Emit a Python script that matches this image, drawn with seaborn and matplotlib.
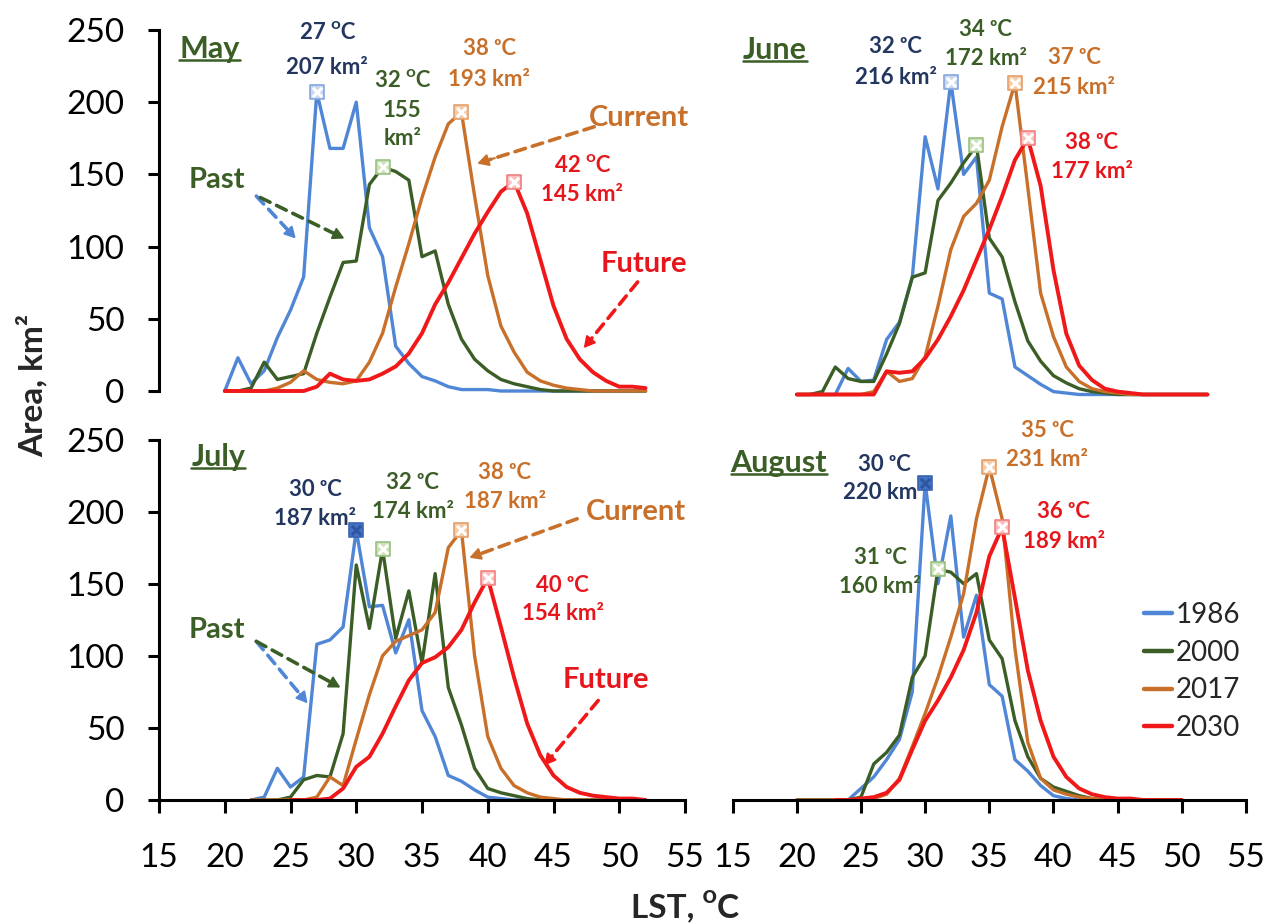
import numpy as np
import pandas as pd
import matplotlib.pyplot as plt
from matplotlib.lines import Line2D
import seaborn as sns

nan = np.nan
years = ["1986", "2000", "2017", "2030"]
line_colors = {"1986": "#4F86D6", "2000": "#3B5E27", "2017": "#C8702A", "2030": "#F01818"}
text_colors = {"1986": "#22365F", "2000": "#3B5E27", "2017": "#C8702A", "2030": "#E5161C"}

# area (km2) per 1 degC LST class
may_lst = list(range(20, 53))
may_1986 = [0, 23, 5, 14, 37, 56, 79, 207, 168, 168, 200, 113, 93, 31, 19, 10, 7, 3, 1, 1, 1,
            0, 0, 0, 0, 0, 0, 0, 0, 0, 0, 0, 0]
may_2000 = [0, 0, 2, 20, 8, 10, 12, 40, 65, 89, 90, 143, 155, 152, 146, 93, 97, 60, 36, 22, 14,
            8, 5, 3, 1, 0, 0, 0, 0, 0, 0, 0, 0]
may_2017 = [0, 0, 0, 0, 2, 6, 14, 8, 6, 5, 7, 20, 40, 72, 102, 134, 162, 185, 193, 135, 80,
            45, 27, 13, 7, 4, 2, 1, 0, 0, 0, 0, 0]
may_2030 = [0, 0, 0, 0, 0, 0, 0, 3, 12, 8, 7, 8, 12, 17, 26, 40, 60, 75, 92, 109, 124,
            138, 145, 123, 91, 59, 36, 22, 13, 7, 3, 3, 2]

june_lst = list(range(20, 53))
june_1986 = [0, 0, 0, 0, 18, 9, 10, 38, 50, 81, 178, 142, 216, 152, 164, 70, 66, 19, 13, 7, 2,
             1, 0, 0, 0, 0, 0, 0, 0, 0, 0, 0, 0]
june_2000 = [0, 0, 2, 19, 11, 9, 9, 28, 49, 81, 84, 134, 146, 160, 172, 108, 95, 64, 37, 23, 13,
             8, 4, 2, 1, 0, 0, 0, 0, 0, 0, 0, 0]
june_2017 = [0, 0, 0, 0, 0, 0, 2, 16, 9, 11, 26, 61, 100, 123, 132, 148, 185, 215, 143, 70, 40,
             19, 9, 4, 2, 1, 0, 0, 0, 0, 0, 0, 0]
june_2030 = [0, 0, 0, 0, 0, 0, 0, 16, 15, 16, 25, 38, 54, 72, 93, 114, 137, 162, 177, 144, 86,
             42, 20, 10, 4, 2, 1, 0, 0, 0, 0, 0, 0]

july_lst = list(range(22, 53))
july_1986 = [0, 2, 22, 9, 16, 108, 111, 120, 187, 134, 135, 102, 125, 62, 44, 17, 13, 7, 2,
             1, 0, 0, 0, 0, 0, 0, 0, 0, 0, 0, 0]
july_2000 = [0, 0, 0, 2, 14, 17, 16, 46, 163, 119, 174, 112, 145, 95, 157, 78, 52, 22, 8,
             5, 3, 1, 0, 0, 0, 0, 0, 0, 0, 0, 0]
july_2017 = [0, 0, 0, 0, 0, 2, 16, 10, 42, 73, 100, 110, 114, 118, 130, 175, 187, 100, 44,
             22, 10, 5, 2, 1, 0, 0, 0, 0, 0, 0, 0]
july_2030 = [nan, nan, nan, 0, 0, 0, 1, 8, 23, 30, 46, 65, 83, 95, 99, 106, 118, 137, 154,
             120, 85, 53, 31, 17, 9, 5, 3, 2, 1, 1, 0]

aug_lst = list(range(20, 51))
aug_1986 = [0, 0, 0, 0, 0, 8, 16, 28, 42, 75, 220, 150, 197, 113, 142, 80, 72, 28, 20, 10, 3,
            1, 0, 0, 0, 0, 0, 0, 0, 0, 0]
aug_2000 = [0, 0, 0, 0, 0, 2, 25, 33, 45, 85, 100, 160, 158, 150, 157, 111, 98, 55, 30, 15, 9,
            6, 3, 1, 0, 0, 0, 0, 0, 0, 0]
aug_2017 = [0, 0, 0, 0, 0, 0, 1, 4, 15, 37, 60, 85, 113, 143, 195, 231, 195, 105, 40, 15, 7,
            4, 2, 1, 0, 0, 0, 0, 0, 0, 0]
aug_2030 = [nan, nan, nan, 0, 0, 1, 2, 5, 14, 35, 55, 69, 85, 104, 130, 169, 189, 140, 90, 55, 30,
            16, 8, 4, 2, 1, 1, 0, 0, 0, 0]

months = {
    "May": (may_lst, [may_1986, may_2000, may_2017, may_2030]),
    "June": (june_lst, [june_1986, june_2000, june_2017, june_2030]),
    "July": (july_lst, [july_1986, july_2000, july_2017, july_2030]),
    "August": (aug_lst, [aug_1986, aug_2000, aug_2017, aug_2030]),
}

# text placement of the peak labels: x, y of degree line, y of area line (May 2000 has 3 lines)
label_pos = {
    "May": {"1986": (27.8, 248, 224), "2000": (33.5, 215, 194, 175),
            "2017": (40.1, 237, 216), "2030": (47.2, 156, 136)},
    "June": {"1986": (27.7, 240, 219), "2000": (34.7, 252, 232),
             "2017": (41.6, 233, 212), "2030": (43.0, 174, 154)},
    "July": {"1986": (26.9, 215, 195), "2000": (34.3, 220, 200),
             "2017": (41.3, 227, 207), "2030": (45.7, 149, 129)},
    "August": {"1986": (26.8, 233, 213), "2000": (26.5, 168, 148),
               "2017": (39.5, 256, 236), "2030": (40.8, 200, 179)},
}
title_pos = {"May": (18.85, 237), "June": (18.3, 238), "July": (19.5, 238), "August": (18.6, 234)}

sns.set_theme(style="white")
plt.rcParams["font.family"] = ["Lato", "DejaVu Sans"]

fig = plt.figure(figsize=(12.66, 9.24), dpi=100)
W, H = 1266, 924
axes = {
    "May": fig.add_axes([159 / W, 1 - 391 / H, 526 / W, 361 / H]),
    "June": fig.add_axes([732.6 / W, 1 - 394.5 / H, 513.4 / W, 362 / H]),
    "July": fig.add_axes([159 / W, 1 - 800 / H, 526 / W, 360.5 / H]),
    "August": fig.add_axes([732.6 / W, 1 - 800 / H, 513.4 / W, 360.5 / H]),
}

marker_fill = {"1986": "#C9D7F0", "2000": "#CBE2BA", "2017": "#F6CBA6", "2030": "#F9BDBD"}
marker_edge = {"1986": "#86A6DE", "2000": "#9CC080", "2017": "#E4A06C", "2030": "#F28080"}

titles = []
for month, (lst, series) in months.items():
    ax = axes[month]
    df = pd.DataFrame({"LST": lst})
    for y, vals in zip(years, series):
        df[y] = vals
    df = df.melt(id_vars="LST", var_name="Year", value_name="Area").dropna()
    sns.lineplot(data=df, x="LST", y="Area", hue="Year", hue_order=years,
                 palette=line_colors, errorbar=None, linewidth=2.4, legend=False, ax=ax)
    for ln in ax.get_lines():
        ln.set_clip_on(False)
    ax.get_lines()[-1].set_linewidth(2.8)

    ax.set_xlim(15, 55)
    ax.set_ylim(0, 250)
    ax.set_xlabel("")
    ax.set_ylabel("")
    for s in ["top", "right"]:
        ax.spines[s].set_visible(False)
    for s in ["left", "bottom"]:
        ax.spines[s].set_linewidth(2.2)
        ax.spines[s].set_color("black")
    ax.set_xticks(range(15, 56, 5))
    ax.set_yticks(range(0, 251, 50))
    if month in ("May", "July"):
        ax.tick_params(axis="y", left=True, direction="out", length=8, width=2.2,
                       pad=17, labelsize=24, colors="black")
    else:
        ax.spines["left"].set_visible(False)
        ax.tick_params(axis="y", left=False, labelleft=False)
    if month in ("July", "August"):
        ax.tick_params(axis="x", bottom=True, direction="out", length=9, width=2.2,
                       pad=22, labelsize=24, colors="black")
    else:
        ax.spines["bottom"].set_visible(False)
        ax.tick_params(axis="x", bottom=False, labelbottom=False)

    # peak markers and labels
    for y, vals in zip(years, series):
        arr = np.array(vals, dtype=float)
        i = int(np.nanargmax(arr))
        px, py = lst[i], arr[i]
        if y == "1986" and month in ("July", "August"):
            fc, ec, xc = "#4472C4", "#3A64B4", "#2F55A0"
        else:
            fc, ec, xc = marker_fill[y], marker_edge[y], "white"
        ax.scatter([px], [py], marker="s", s=95, facecolor=fc, edgecolor=ec,
                   linewidth=1.2, zorder=5, clip_on=False)
        ax.scatter([px], [py], marker="x", s=45, color=xc, linewidth=2.2, zorder=6, clip_on=False)
        sup = "\u1d3c" if (month == "May" and y != "2017") else "\u1d52"
        pos = label_pos[month][y]
        kw = dict(ha="center", va="center", fontsize=16, fontweight="bold", color=text_colors[y])
        ax.text(pos[0], pos[1], f"{int(px)} {sup}C", **kw)
        if len(pos) == 4:
            ax.text(pos[0], pos[2], f"{int(py)}", **kw)
            ax.text(pos[0], pos[3], "km\u00b2", **kw)
        else:
            ax.text(pos[0], pos[2], f"{int(py)} km\u00b2", **kw)

    tx, ty = title_pos[month]
    t = ax.text(tx, ty, month, ha="center", va="center", fontsize=22, fontweight="bold",
                color="#3B5E27")
    titles.append((ax, t))


def dashed_arrow(ax, tail, head, color):
    ax.annotate("", xy=head, xytext=tail,
                arrowprops=dict(arrowstyle="-", linestyle=(0, (3, 2)), lw=2.6, color=color,
                                shrinkA=0, shrinkB=8))
    back = (head[0] + (tail[0] - head[0]) * 0.15, head[1] + (tail[1] - head[1]) * 0.15)
    ax.annotate("", xy=head, xytext=back,
                arrowprops=dict(arrowstyle="-|>,head_length=0.55,head_width=0.3", lw=1.5,
                                color=color, shrinkA=0, shrinkB=0))


bold = dict(ha="center", va="center", fontsize=21, fontweight="bold")
ax = axes["May"]
ax.text(19.4, 146, "Past", color=text_colors["2000"], **bold)
ax.text(51.5, 189, "Current", color=text_colors["2017"], **bold)
ax.text(51.9, 88, "Future", color=text_colors["2030"], **bold)
dashed_arrow(ax, (22.4, 135), (25.4, 105.6), line_colors["1986"])
dashed_arrow(ax, (22.7, 134), (29.1, 105.6), line_colors["2000"])
dashed_arrow(ax, (48.1, 183), (39.2, 157.5), line_colors["2017"])
dashed_arrow(ax, (51.4, 75.5), (47.3, 29.7), line_colors["2030"])

ax = axes["July"]
ax.text(19.4, 118, "Past", color=text_colors["2000"], **bold)
ax.text(51.3, 200, "Current", color=text_colors["2017"], **bold)
ax.text(49.0, 83, "Future", color=text_colors["2030"], **bold)
dashed_arrow(ax, (22.4, 110), (26.3, 67), line_colors["1986"])
dashed_arrow(ax, (22.4, 110), (28.8, 78), line_colors["2000"])
dashed_arrow(ax, (46.8, 195), (38.6, 168), line_colors["2017"])
dashed_arrow(ax, (48.4, 69), (44.3, 24), line_colors["2030"])

handles = [Line2D([0], [0], color=line_colors[y], lw=3.2) for y in years]
fig.legend(handles, years, loc="upper left", bbox_to_anchor=(1144 / W, 1 - 602 / H),
           bbox_transform=fig.transFigure, frameon=False, fontsize=20, handlelength=1.0,
           handletextpad=0.15, labelspacing=0.42, borderpad=0, borderaxespad=0)

fig.text(32 / W, 1 - 385 / H, "Area, km\u00b2", rotation=90, ha="center", va="center",
         fontsize=24, fontweight="bold")
fig.text(685 / W, 1 - 906 / H, "LST, \u1d3cC", ha="center", va="center",
         fontsize=24, fontweight="bold")

# underline the month titles
fig.canvas.draw()
inv = fig.transFigure.inverted()
for ax, t in titles:
    bb = t.get_window_extent()
    (x0, y0), (x1, _) = inv.transform([(bb.x0, bb.y0 + 3), (bb.x1, bb.y1)])
    fig.add_artist(Line2D([x0, x1], [y0, y0], color="#3B5E27", lw=1.8))

fig.savefig("out.png", dpi=100)
